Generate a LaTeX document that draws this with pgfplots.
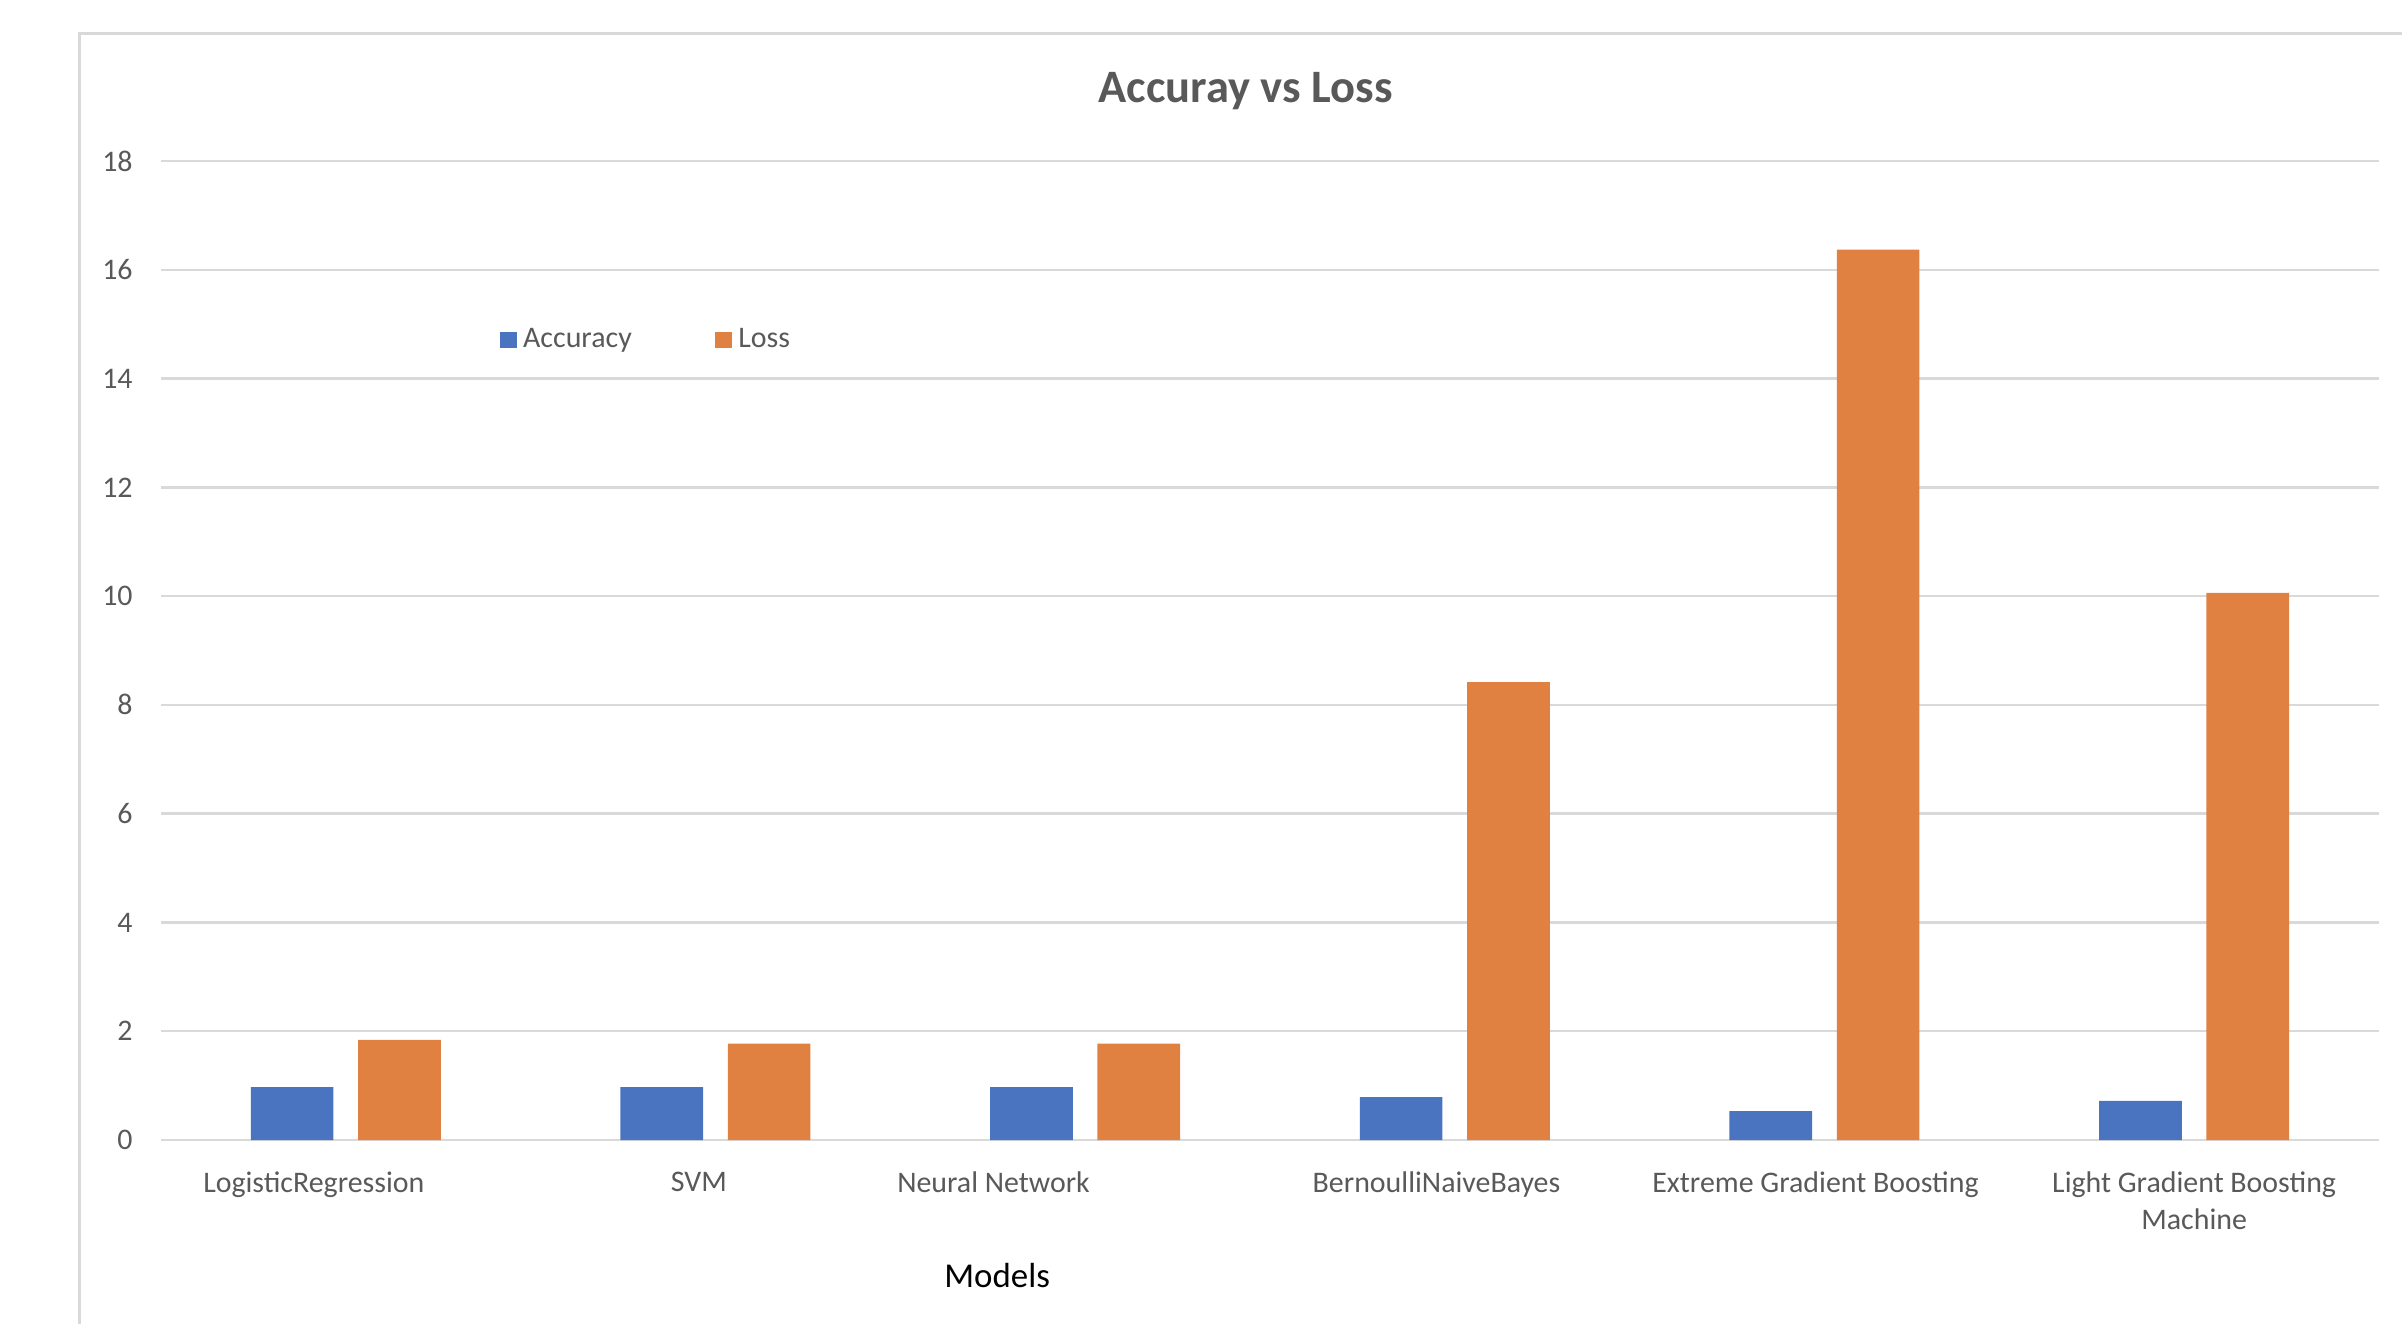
\documentclass[border=0pt]{standalone}
\usepackage{fontspec}
\setmainfont{Carlito}
\usepackage{pgfplots}
\pgfplotsset{compat=1.18}
\definecolor{accblue}{HTML}{4A73C0}
\definecolor{lossorange}{HTML}{E08142}
\definecolor{gridgray}{HTML}{D9D9D9}
\definecolor{txtgray}{HTML}{595959}
\begin{document}
\begin{tikzpicture}
\path[use as bounding box] (-48.3bp,-55.2bp) rectangle (672.3bp,342bp);
\draw[gridgray, line width=0.9bp] (-24.3bp,-60bp) -- (-24.3bp,331.8bp) -- (680bp,331.8bp);
\begin{axis}[
  at={(0,0)}, anchor=south west,
  scale only axis,
  width=665.4bp, height=293.7bp,
  xmin=-0.5, xmax=5.5, ymin=0, ymax=18,
  ybar, bar width=24.8bp,
  xtick={0,1,2,3,4,5},
  xticklabels={\hspace*{-19.2bp}LogisticRegression, \hspace*{-10bp}SVM, \hspace*{-55bp}Neural Network, \hspace*{-11bp}BernoulliNaiveBayes, \hspace*{-5.4bp}Extreme Gradient Boosting, {Light Gradient Boosting\\Machine}},
  ytick={0,2,...,18},
  major tick length=0,
  axis line style={draw=none},
  ymajorgrids, grid style={gridgray, line width=0.75bp},
  /pgf/number format/assume math mode=true,
  tick label style={font=\fontsize{9}{11}\selectfont, text=txtgray},
  yticklabel style={xshift=-5bp},
  xticklabel style={yshift=-6bp, align=center},
  xlabel={Models},
  xlabel style={at={(axis description cs:0.377,0)}, anchor=center, yshift=-40.8bp, font=\fontsize{10.5}{12}\selectfont, text=black},
  title={\textbf{Accuray vs Loss}},
  title style={at={(axis description cs:0.489,1)}, anchor=center, yshift=14.9bp, font=\fontsize{14}{16}\selectfont, text=txtgray},
  legend columns=2,
  legend style={at={(axis description cs:0.148,0.817)}, anchor=west, draw=none, fill=none,
    font=\fontsize{9}{11}\selectfont, text=txtgray,
    /tikz/every even column/.append style={column sep=23bp}},
  legend image code/.code={\fill[#1] (0bp,-2.5bp) rectangle (5bp,2.5bp);},
]
\addplot[fill=accblue, draw=none, bar shift=-16.1bp] coordinates {(0,0.97) (1,0.97) (2,0.97) (3,0.79) (4,0.53) (5,0.72)};
\addplot[fill=lossorange, draw=none, bar shift=16.1bp] coordinates {(0,1.84) (1,1.77) (2,1.77) (3,8.42) (4,16.37) (5,10.06)};
\legend{Accuracy, Loss}
\end{axis}
\end{tikzpicture}
\end{document}
